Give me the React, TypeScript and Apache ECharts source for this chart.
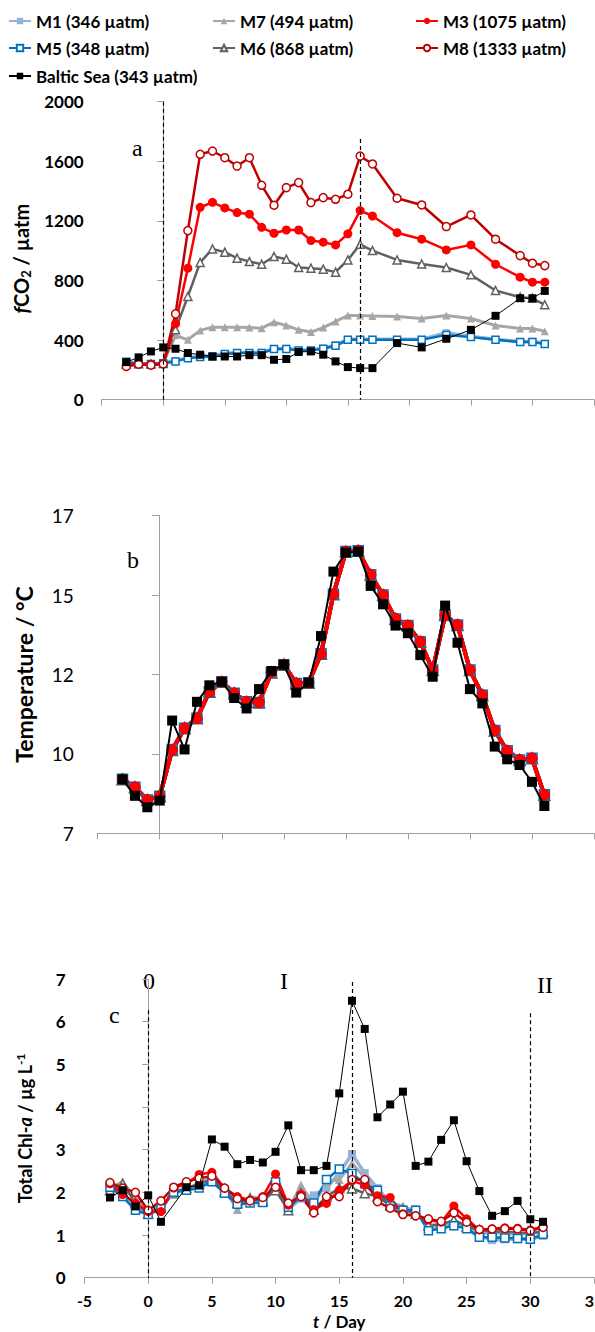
import React, { useEffect, useRef } from 'react';
import * as echarts from 'echarts';

// ---------- data ----------
const xTicks = [-5, 0, 5, 10, 15, 20, 25, 30, 35];

// Panel a: fCO2 (µatm)
const fco2Days = [-3, -2, -1, 0, 1, 2, 3, 4, 5, 6, 7, 8, 9, 10, 11, 12, 13, 14, 15, 16, 17, 19, 21, 23, 25, 27, 29, 30, 31];
const fco2M1 = [250, 242, 238, 248, 262, 282, 290, 295, 310, 316, 316, 318, 342, 345, 335, 333, 345, 368, 405, 405, 405, 405, 405, 450, 425, 405, 390, 392, 378];
const fco2M5 = [255, 240, 240, 245, 257, 279, 286, 290, 306, 313, 313, 313, 340, 340, 331, 331, 342, 362, 402, 402, 402, 402, 402, 435, 420, 402, 387, 387, 373];
const fco2M7 = [245, 243, 242, 245, 432, 402, 465, 487, 487, 487, 484, 480, 520, 498, 469, 454, 484, 525, 565, 565, 561, 559, 545, 565, 545, 498, 478, 478, 460];
const fco2M6 = [240, 242, 240, 243, 470, 693, 921, 1012, 990, 950, 927, 909, 961, 943, 887, 883, 876, 856, 938, 1043, 1001, 938, 911, 887, 838, 733, 688, 681, 637];
const fco2M3 = [235, 240, 238, 242, 510, 883, 1291, 1325, 1287, 1256, 1245, 1157, 1117, 1139, 1139, 1068, 1057, 1039, 1113, 1269, 1233, 1121, 1077, 1005, 1039, 909, 822, 789, 789];
const fco2M8 = [223, 238, 232, 240, 576, 1135, 1647, 1669, 1624, 1568, 1624, 1439, 1305, 1423, 1457, 1323, 1356, 1345, 1379, 1635, 1582, 1352, 1307, 1162, 1240, 1077, 967, 916, 900];
const fco2Baltic = [252, 284, 324, 351, 342, 313, 302, 290, 290, 290, 299, 299, 268, 273, 320, 324, 302, 257, 219, 212, 212, 380, 351, 409, 469, 563, 681, 681, 730];

// Panel b: temperature (°C)
const tempDays = [-3, -2, -1, 0, 1, 2, 3, 4, 5, 6, 7, 8, 9, 10, 11, 12, 13, 14, 15, 16, 17, 18, 19, 20, 21, 22, 23, 24, 25, 26, 27, 28, 29, 30, 31];
const tempMeso = [8.70, 8.45, 8.05, 8.17, 9.62, 10.31, 10.62, 11.46, 11.77, 11.41, 11.14, 11.12, 12.06, 12.31, 11.72, 11.74, 12.65, 14.53, 15.87, 15.90, 15.14, 14.50, 13.75, 13.54, 13.03, 12.14, 13.87, 13.56, 12.14, 11.35, 10.24, 9.60, 9.31, 9.36, 8.21];
const tempBaltic = [8.70, 8.18, 7.82, 8.03, 10.55, 9.64, 11.14, 11.66, 11.77, 11.26, 10.93, 11.54, 12.11, 12.31, 11.43, 11.74, 13.21, 15.24, 15.84, 15.87, 14.79, 14.21, 13.54, 13.30, 12.61, 11.93, 14.17, 13.00, 11.54, 11.09, 9.73, 9.33, 9.15, 8.62, 7.86];

// Panel c: total Chl-a (µg/L)
const chlDays = [-3, -2, -1, 0, 1, 2, 3, 4, 5, 6, 7, 8, 9, 10, 11, 12, 13, 14, 15, 16, 17, 18, 19, 20, 21, 22, 23, 24, 25, 26, 27, 28, 29, 30, 31];
const chlM1 = [2.20, 2.00, 1.60, 1.50, 1.60, 2.05, 2.05, 2.15, 2.30, 2.00, 1.75, 1.80, 1.80, 2.20, 1.62, 1.85, 1.93, 2.10, 2.45, 2.90, 2.45, 2.10, 1.75, 1.60, 1.60, 1.15, 1.18, 1.25, 1.18, 0.98, 0.88, 0.90, 0.90, 0.90, 0.98];
const chlM5 = [2.12, 1.90, 1.58, 1.48, 1.62, 2.00, 2.05, 2.10, 2.25, 1.98, 1.72, 1.75, 1.76, 2.25, 1.65, 1.90, 1.75, 2.30, 2.55, 2.44, 2.20, 2.05, 1.68, 1.58, 1.58, 1.10, 1.15, 1.22, 1.15, 0.95, 0.95, 0.93, 0.92, 0.90, 1.02];
const chlM7 = [2.10, 2.25, 1.85, 1.55, 1.70, 1.95, 2.10, 2.20, 2.35, 2.05, 1.60, 1.90, 1.85, 2.10, 1.60, 2.17, 1.70, 2.25, 2.30, 2.68, 2.35, 1.95, 1.75, 1.68, 1.55, 1.20, 1.20, 1.35, 1.22, 1.05, 1.05, 1.05, 1.00, 1.05, 1.05];
const chlM6 = [2.05, 2.20, 1.75, 1.50, 1.65, 2.00, 2.10, 2.20, 2.30, 2.02, 1.75, 1.85, 1.80, 2.05, 1.58, 1.98, 1.60, 1.90, 2.10, 2.09, 1.98, 1.90, 1.70, 1.60, 1.50, 1.23, 1.25, 1.35, 1.20, 1.12, 1.08, 1.08, 1.06, 1.05, 1.08];
const chlM3 = [2.20, 1.95, 1.75, 1.55, 1.55, 2.10, 2.20, 2.42, 2.47, 2.10, 1.90, 1.82, 1.90, 2.43, 1.70, 1.95, 1.60, 1.74, 2.05, 2.27, 2.17, 1.92, 1.88, 1.50, 1.45, 1.35, 1.30, 1.68, 1.38, 1.12, 1.15, 1.17, 1.16, 1.12, 1.20];
const chlM8 = [2.23, 2.10, 2.00, 1.58, 1.80, 2.12, 2.25, 2.33, 2.38, 2.10, 1.85, 1.80, 1.88, 2.12, 1.75, 1.90, 1.52, 1.90, 1.90, 2.30, 2.30, 1.78, 1.63, 1.48, 1.45, 1.38, 1.32, 1.52, 1.30, 1.13, 1.14, 1.15, 1.14, 1.10, 1.18];
const chlBalticDays = [-3, -2, -1, 0, 1, 3, 4, 5, 6, 7, 8, 9, 10, 11, 12, 13, 14, 15, 16, 17, 18, 19, 20, 21, 22, 23, 24, 25, 26, 27, 28, 29, 30, 31];
const chlBaltic = [1.88, 2.05, 1.67, 1.93, 1.31, 2.12, 2.16, 3.24, 3.07, 2.66, 2.76, 2.70, 2.95, 3.57, 2.52, 2.52, 2.62, 4.32, 6.49, 5.83, 3.76, 4.06, 4.36, 2.62, 2.72, 3.23, 3.69, 2.73, 2.03, 1.45, 1.56, 1.80, 1.37, 1.31];

// phase markers (days) and their label texts
const phaseDays = [0, 16, 30];
const phaseLabels = ['0', 'I', 'II'];
const panelLetters = ['a', 'b', 'c'];

const names = {
  M1: 'M1 (346 µatm)',
  M5: 'M5 (348 µatm)',
  M7: 'M7 (494 µatm)',
  M6: 'M6 (868 µatm)',
  M3: 'M3 (1075 µatm)',
  M8: 'M8 (1333 µatm)',
  B: 'Baltic Sea (343 µatm)',
};

// ---------- styling ----------
const FONT = 'Lato, "Open Sans", sans-serif';
const SERIF = '"Liberation Serif", "DejaVu Serif", serif';
const AXIS_GRAY = '#a0a0a0';

type Sty = { color: string; symbol: string; open: boolean; width: number };
const styles: Record<string, Sty> = {
  M1: { color: '#95b3d7', symbol: 'rect', open: false, width: 3.5 },
  M7: { color: '#a6a6a6', symbol: 'triangle', open: false, width: 3 },
  M6: { color: '#606060', symbol: 'triangle', open: true, width: 2.5 },
  M5: { color: '#0070c0', symbol: 'rect', open: true, width: 2.5 },
  M3: { color: '#ff0000', symbol: 'circle', open: false, width: 2.5 },
  M8: { color: '#c00000', symbol: 'circle', open: true, width: 2.5 },
  B: { color: '#000000', symbol: 'rect', open: false, width: 1 },
};

function pairs(days: number[], vals: number[]) {
  return days.map((d, i) => [d, vals[i]]);
}

function mkSeries(key: string, grid: number, data: number[][], size: number, widthOverride?: number) {
  const s = styles[key];
  return {
    type: 'line',
    name: names[key as keyof typeof names],
    xAxisIndex: grid,
    yAxisIndex: grid,
    data,
    symbol: s.symbol,
    symbolSize: s.symbol === 'triangle' ? size + 1 : size,
    showSymbol: true,
    lineStyle: { color: s.color, width: widthOverride ?? s.width },
    itemStyle: s.open
      ? { color: '#ffffff', borderColor: s.color, borderWidth: 1.5 }
      : { color: s.color, borderColor: s.color, borderWidth: 0 },
    emphasis: { disabled: true },
    z: key === 'B' ? 5 : 3,
  };
}

function phaseLines(grid: number, yTop: number[], yBottom: number, color: string) {
  return {
    type: 'line',
    xAxisIndex: grid,
    yAxisIndex: grid,
    data: [],
    silent: true,
    markLine: {
      silent: true,
      symbol: 'none',
      label: { show: false },
      lineStyle: { color, type: [4, 3], width: 1.2 },
      data: phaseDays.map((d, i) => [
        { coord: [d, yTop[i]] },
        { coord: [d, yBottom] },
      ]),
    },
  };
}

// legend layout: [key, left, rowCenterY]
const legendSlots: [keyof typeof names, number, number][] = [
  ['M1', 8, 21], ['M5', 8, 48], ['B', 8, 76],
  ['M7', 212, 21], ['M6', 212, 48],
  ['M3', 415, 21], ['M8', 415, 48],
];

export default function App() {
  const ref = useRef<HTMLDivElement>(null);

  useEffect(() => {
    if (!ref.current) return;
    const chart = echarts.init(ref.current, null, { renderer: 'svg' });

    const xBase = (grid: number, showLabels: boolean) => ({
      type: 'value',
      gridIndex: grid,
      min: xTicks[0],
      max: xTicks[xTicks.length - 1],
      interval: 5,
      axisLine: { show: true, onZero: false, lineStyle: { color: AXIS_GRAY, width: 1 } },
      axisTick: { show: true, inside: false, length: 6, lineStyle: { color: AXIS_GRAY } },
      axisLabel: {
        show: showLabels,
        fontFamily: FONT,
        fontWeight: 'bold',
        fontSize: 16,
        color: '#000',
        margin: 15,
        hideOverlap: false,
      },
      splitLine: { show: false },
      name: showLabels ? '{i|t}{n| / Day}' : '',
      nameLocation: 'middle',
      nameGap: 35,
      nameTextStyle: {
        rich: {
          i: { fontFamily: FONT, fontWeight: 'bold', fontStyle: 'italic', fontSize: 17, color: '#000' },
          n: { fontFamily: FONT, fontWeight: 'bold', fontSize: 17, color: '#000' },
        },
      },
    });

    const yBase = (grid: number) => ({
      type: 'value',
      gridIndex: grid,
      axisLine: { show: true, lineStyle: { color: AXIS_GRAY, width: 1 } },
      axisTick: { show: true, inside: false, length: 6, lineStyle: { color: AXIS_GRAY } },
      splitLine: { show: false },
      nameLocation: 'middle',
      nameRotate: 90,
    });

    const option: any = {
      animation: false,
      backgroundColor: '#ffffff',
      legend: legendSlots.map(([key, left, cy]) => ({
        data: [names[key]],
        left,
        top: cy - 10,
        padding: 0,
        orient: 'horizontal',
        itemWidth: 22,
        itemHeight: 8,
        selectedMode: false,
        textStyle: { fontFamily: FONT, fontWeight: 'bold', fontSize: 17, color: '#000', lineHeight: 20 },
      })),
      grid: [
        { left: 101.7, right: 1, top: 101.7, height: 298, outerBoundsMode: 'none', containLabel: false },
        { left: 97.7, right: 1, top: 515.7, height: 317.6, outerBoundsMode: 'none', containLabel: false },
        { left: 84.5, right: 1, top: 979, height: 298.7, outerBoundsMode: 'none', containLabel: false },
      ],
      xAxis: [xBase(0, false), xBase(1, false), xBase(2, true)],
      yAxis: [
        {
          ...yBase(0),
          min: 0,
          max: 2000,
          interval: 400,
          axisLabel: { fontFamily: FONT, fontWeight: 'bold', fontSize: 17, color: '#000', margin: 18, formatter: (v: number) => String(v) },
          name: '{i|f}{n|CO}{s|2}{n| / µatm}',
          nameGap: 69,
          nameTextStyle: {
            padding: [0, 16, 0, 0],
            rich: {
              i: { fontFamily: FONT, fontWeight: 'bold', fontStyle: 'italic', fontSize: 20, color: '#000' },
              n: { fontFamily: FONT, fontWeight: 'bold', fontSize: 20, color: '#000' },
              s: { fontFamily: FONT, fontWeight: 'bold', fontSize: 13, color: '#000', verticalAlign: 'bottom', padding: [10, 0, 0, 0] },
            },
          },
        },
        {
          ...yBase(1),
          min: 7,
          max: 17,
          interval: 2.5,
          axisTick: { show: true, inside: false, length: 8, lineStyle: { color: AXIS_GRAY } },
          axisLabel: {
            fontFamily: FONT,
            fontSize: 19,
            color: '#000',
            margin: 24,
            formatter: (v: number) => String(Math.round(v)),
          },
          name: 'Temperature / °C',
          nameGap: 62,
          nameTextStyle: { fontFamily: FONT, fontWeight: 'bold', fontSize: 23, color: '#000' },
        },
        {
          ...yBase(2),
          min: 0,
          max: 7,
          interval: 1,
          axisLabel: { fontFamily: FONT, fontWeight: 'bold', fontSize: 17, color: '#000', margin: 19, formatter: (v: number) => String(v) },
          name: '{n|Total Chl-}{i|a}{n| / µg L}{p|-1}',
          nameGap: 50,
          nameTextStyle: {
            rich: {
              i: { fontFamily: FONT, fontWeight: 'bold', fontStyle: 'italic', fontSize: 18, color: '#000' },
              n: { fontFamily: FONT, fontWeight: 'bold', fontSize: 18, color: '#000' },
              p: { fontFamily: FONT, fontWeight: 'bold', fontSize: 12, color: '#000', verticalAlign: 'top', padding: [0, 0, 8, 0] },
            },
          },
        },
      ],
      series: [
        // panel a
        mkSeries('M1', 0, pairs(fco2Days, fco2M1), 7),
        mkSeries('M7', 0, pairs(fco2Days, fco2M7), 7),
        mkSeries('M6', 0, pairs(fco2Days, fco2M6), 7),
        mkSeries('M5', 0, pairs(fco2Days, fco2M5), 7),
        mkSeries('M3', 0, pairs(fco2Days, fco2M3), 9),
        mkSeries('M8', 0, pairs(fco2Days, fco2M8), 8),
        mkSeries('B', 0, pairs(fco2Days, fco2Baltic), 8),
        phaseLines(0, [2000, 1750, 2040], 0, '#000000'),
        // panel b
        mkSeries('M1', 1, pairs(tempDays, tempMeso), 10, 4),
        mkSeries('M7', 1, pairs(tempDays, tempMeso), 10, 4),
        mkSeries('M6', 1, pairs(tempDays, tempMeso), 10, 4),
        mkSeries('M5', 1, pairs(tempDays, tempMeso), 10, 4),
        mkSeries('M8', 1, pairs(tempDays, tempMeso), 10, 4),
        mkSeries('M3', 1, pairs(tempDays, tempMeso), 11, 4),
        mkSeries('B', 1, pairs(tempDays, tempBaltic), 10, 2),
        phaseLines(1, [17.2, 17.3, 17.3], 6.9, '#5b9bd5'),
        // panel c
        mkSeries('M1', 2, pairs(chlDays, chlM1), 8),
        mkSeries('M7', 2, pairs(chlDays, chlM7), 8),
        mkSeries('M6', 2, pairs(chlDays, chlM6), 8),
        mkSeries('M5', 2, pairs(chlDays, chlM5), 8),
        mkSeries('M3', 2, pairs(chlDays, chlM3), 9),
        mkSeries('M8', 2, pairs(chlDays, chlM8), 8),
        mkSeries('B', 2, pairs(chlBalticDays, chlBaltic), 8),
        phaseLines(2, [6.27, 6.93, 6.2], 0, '#000000'),
      ],
      graphic: [
        { type: 'text', left: 132, top: 136, style: { text: panelLetters[0], font: `24px ${SERIF}`, fill: '#000' } },
        { type: 'text', left: 127, top: 548, style: { text: panelLetters[1], font: `24px ${SERIF}`, fill: '#000' } },
        { type: 'text', left: 109, top: 1003, style: { text: panelLetters[2], font: `24px ${SERIF}`, fill: '#000' } },
        { type: 'text', left: 143, top: 969, style: { text: phaseLabels[0], font: `24px ${SERIF}`, fill: '#000' } },
        { type: 'text', left: 280, top: 969, style: { text: phaseLabels[1], font: `24px ${SERIF}`, fill: '#000' } },
        { type: 'text', left: 537, top: 973, style: { text: phaseLabels[2], font: `24px ${SERIF}`, fill: '#000' } },
      ],
    };

    chart.setOption(option);
    return () => chart.dispose();
  }, []);

  return (
    <div
      ref={ref}
      style={{ position: 'absolute', left: 0, top: 0, width: 595, height: 1332, background: '#fff' }}
    />
  );
}
